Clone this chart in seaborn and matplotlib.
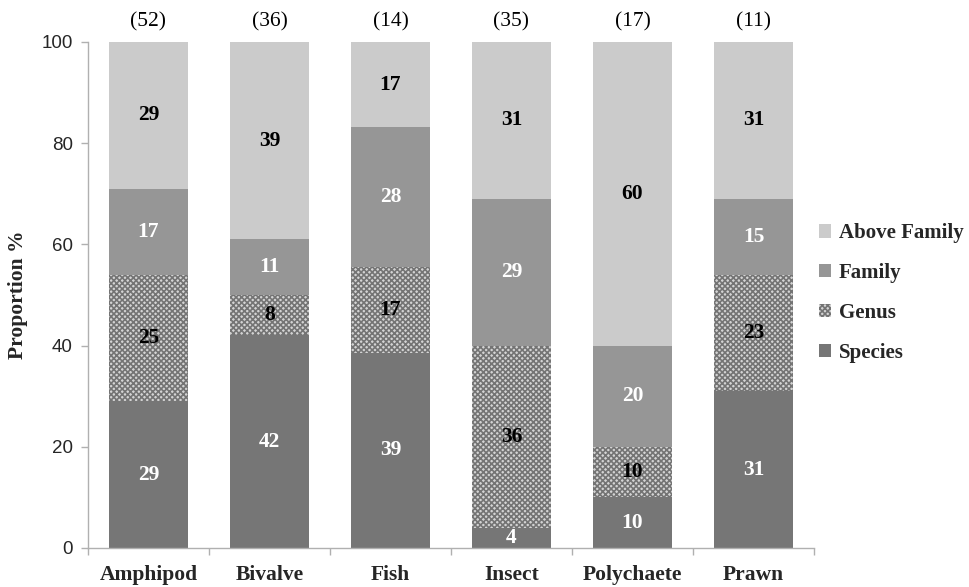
import numpy as np
import pandas as pd
import matplotlib
matplotlib.use("Agg")
import matplotlib.pyplot as plt
import seaborn as sns
from matplotlib.patches import Patch

categories = ["Amphipod", "Bivalve", "Fish", "Insect", "Polychaete", "Prawn"]
counts = [52, 36, 14, 35, 17, 11]
species = [29, 42, 39, 4, 10, 31]
genus = [25, 8, 17, 36, 10, 23]
family = [17, 11, 28, 29, 20, 15]
above_family = [29, 39, 17, 31, 60, 31]
yticks = [0, 20, 40, 60, 80, 100]

sns.set_theme(style="white")
plt.rcParams["font.family"] = ["Liberation Serif", "DejaVu Serif"]
plt.rcParams["hatch.linewidth"] = 1.2

df = pd.DataFrame({
    "cat": categories,
    "Species": species,
    "Genus": genus,
    "Family": family,
    "Above Family": above_family,
})
tot = df[["Species", "Genus", "Family", "Above Family"]].sum(axis=1)
for c in ["Species", "Genus", "Family", "Above Family"]:
    df[c + "_p"] = df[c] / tot * 100
df["c1"] = df["Species_p"]
df["c2"] = df["c1"] + df["Genus_p"]
df["c3"] = df["c2"] + df["Family_p"]
df["c4"] = df["c3"] + df["Above Family_p"]

col_sp = "#767676"
col_fa = "#969696"
col_ab = "#cbcbcb"
col_ge_face = "#d4d4d4"
col_ge_hatch = "#747474"

fig = plt.figure(figsize=(9.7, 5.87), dpi=100)
ax = fig.add_axes([88 / 970, 1 - 548 / 587, (814 - 88) / 970, (548 - 42) / 587])

w = 0.66
sns.barplot(data=df, x="cat", y="c4", color=col_ab, width=w, ax=ax, saturation=1, edgecolor="none", linewidth=0)
sns.barplot(data=df, x="cat", y="c3", color=col_fa, width=w, ax=ax, saturation=1, edgecolor="none", linewidth=0)
n_before = len(ax.patches)
sns.barplot(data=df, x="cat", y="c2", color=col_ge_face, width=w, ax=ax, saturation=1, linewidth=0)
for p in ax.patches[n_before:]:
    p.set_hatch("xxxxxx")
    p.set_edgecolor(col_ge_hatch)
    p.set_linewidth(0)
sns.barplot(data=df, x="cat", y="c1", color=col_sp, width=w, ax=ax, saturation=1, edgecolor="none", linewidth=0)

fs = 15.5
for i, r in df.iterrows():
    segs = [
        (0, r["c1"], r["Species"], "white"),
        (r["c1"], r["c2"], r["Genus"], "black"),
        (r["c2"], r["c3"], r["Family"], "white"),
        (r["c3"], r["c4"], r["Above Family"], "black"),
    ]
    for lo, hi, v, col in segs:
        ax.text(i, (lo + hi) / 2, f"{v}", ha="center", va="center",
                fontsize=fs, fontweight="bold", color=col)
    ax.text(i, 102.0, f"({counts[i]})", ha="center", va="bottom", fontsize=fs, color="black")

ax.set_ylim(0, 100)
ax.set_xlim(-0.5, 5.5)
ax.set_yticks(yticks)
ax.set_yticklabels([str(t) for t in yticks], fontfamily="Liberation Sans", fontsize=13.5)
ax.set_xticks(range(len(categories)))
ax.set_xticklabels(categories, fontsize=fs, fontweight="bold")
ax.set_xticks(np.arange(-0.5, 6, 1), minor=True)
ax.tick_params(axis="x", which="major", length=0, pad=12)
ax.tick_params(axis="x", which="minor", length=5, width=1, color="#b0b0b0", direction="out", bottom=True)
ax.tick_params(axis="y", length=5, width=1, color="#b0b0b0", direction="out", left=True, pad=6)
ax.set_xlabel("")
ax.set_ylabel("Proportion %", fontsize=fs, fontweight="bold")
ax.yaxis.set_label_coords(-60 / 726, 0.5)

for s in ["top", "right"]:
    ax.spines[s].set_visible(False)
for s in ["left", "bottom"]:
    ax.spines[s].set_color("#b0b0b0")
    ax.spines[s].set_linewidth(1)

handles = [
    Patch(facecolor=col_ab, edgecolor="none", label="Above Family"),
    Patch(facecolor=col_fa, edgecolor="none", label="Family"),
    Patch(facecolor=col_ge_face, edgecolor=col_ge_hatch, hatch="xxxxxx", linewidth=0, label="Genus"),
    Patch(facecolor=col_sp, edgecolor="none", label="Species"),
]
leg = fig.legend(handles=handles, loc="center left", bbox_to_anchor=(819 / 970, 1 - 293 / 587),
                 frameon=False, prop={"family": "Liberation Serif", "weight": "bold", "size": 15},
                 handlelength=0.6, handleheight=0.6, handletextpad=0.35, labelspacing=0.95, borderaxespad=0, borderpad=0)

fig.savefig("out.png", dpi=100)
